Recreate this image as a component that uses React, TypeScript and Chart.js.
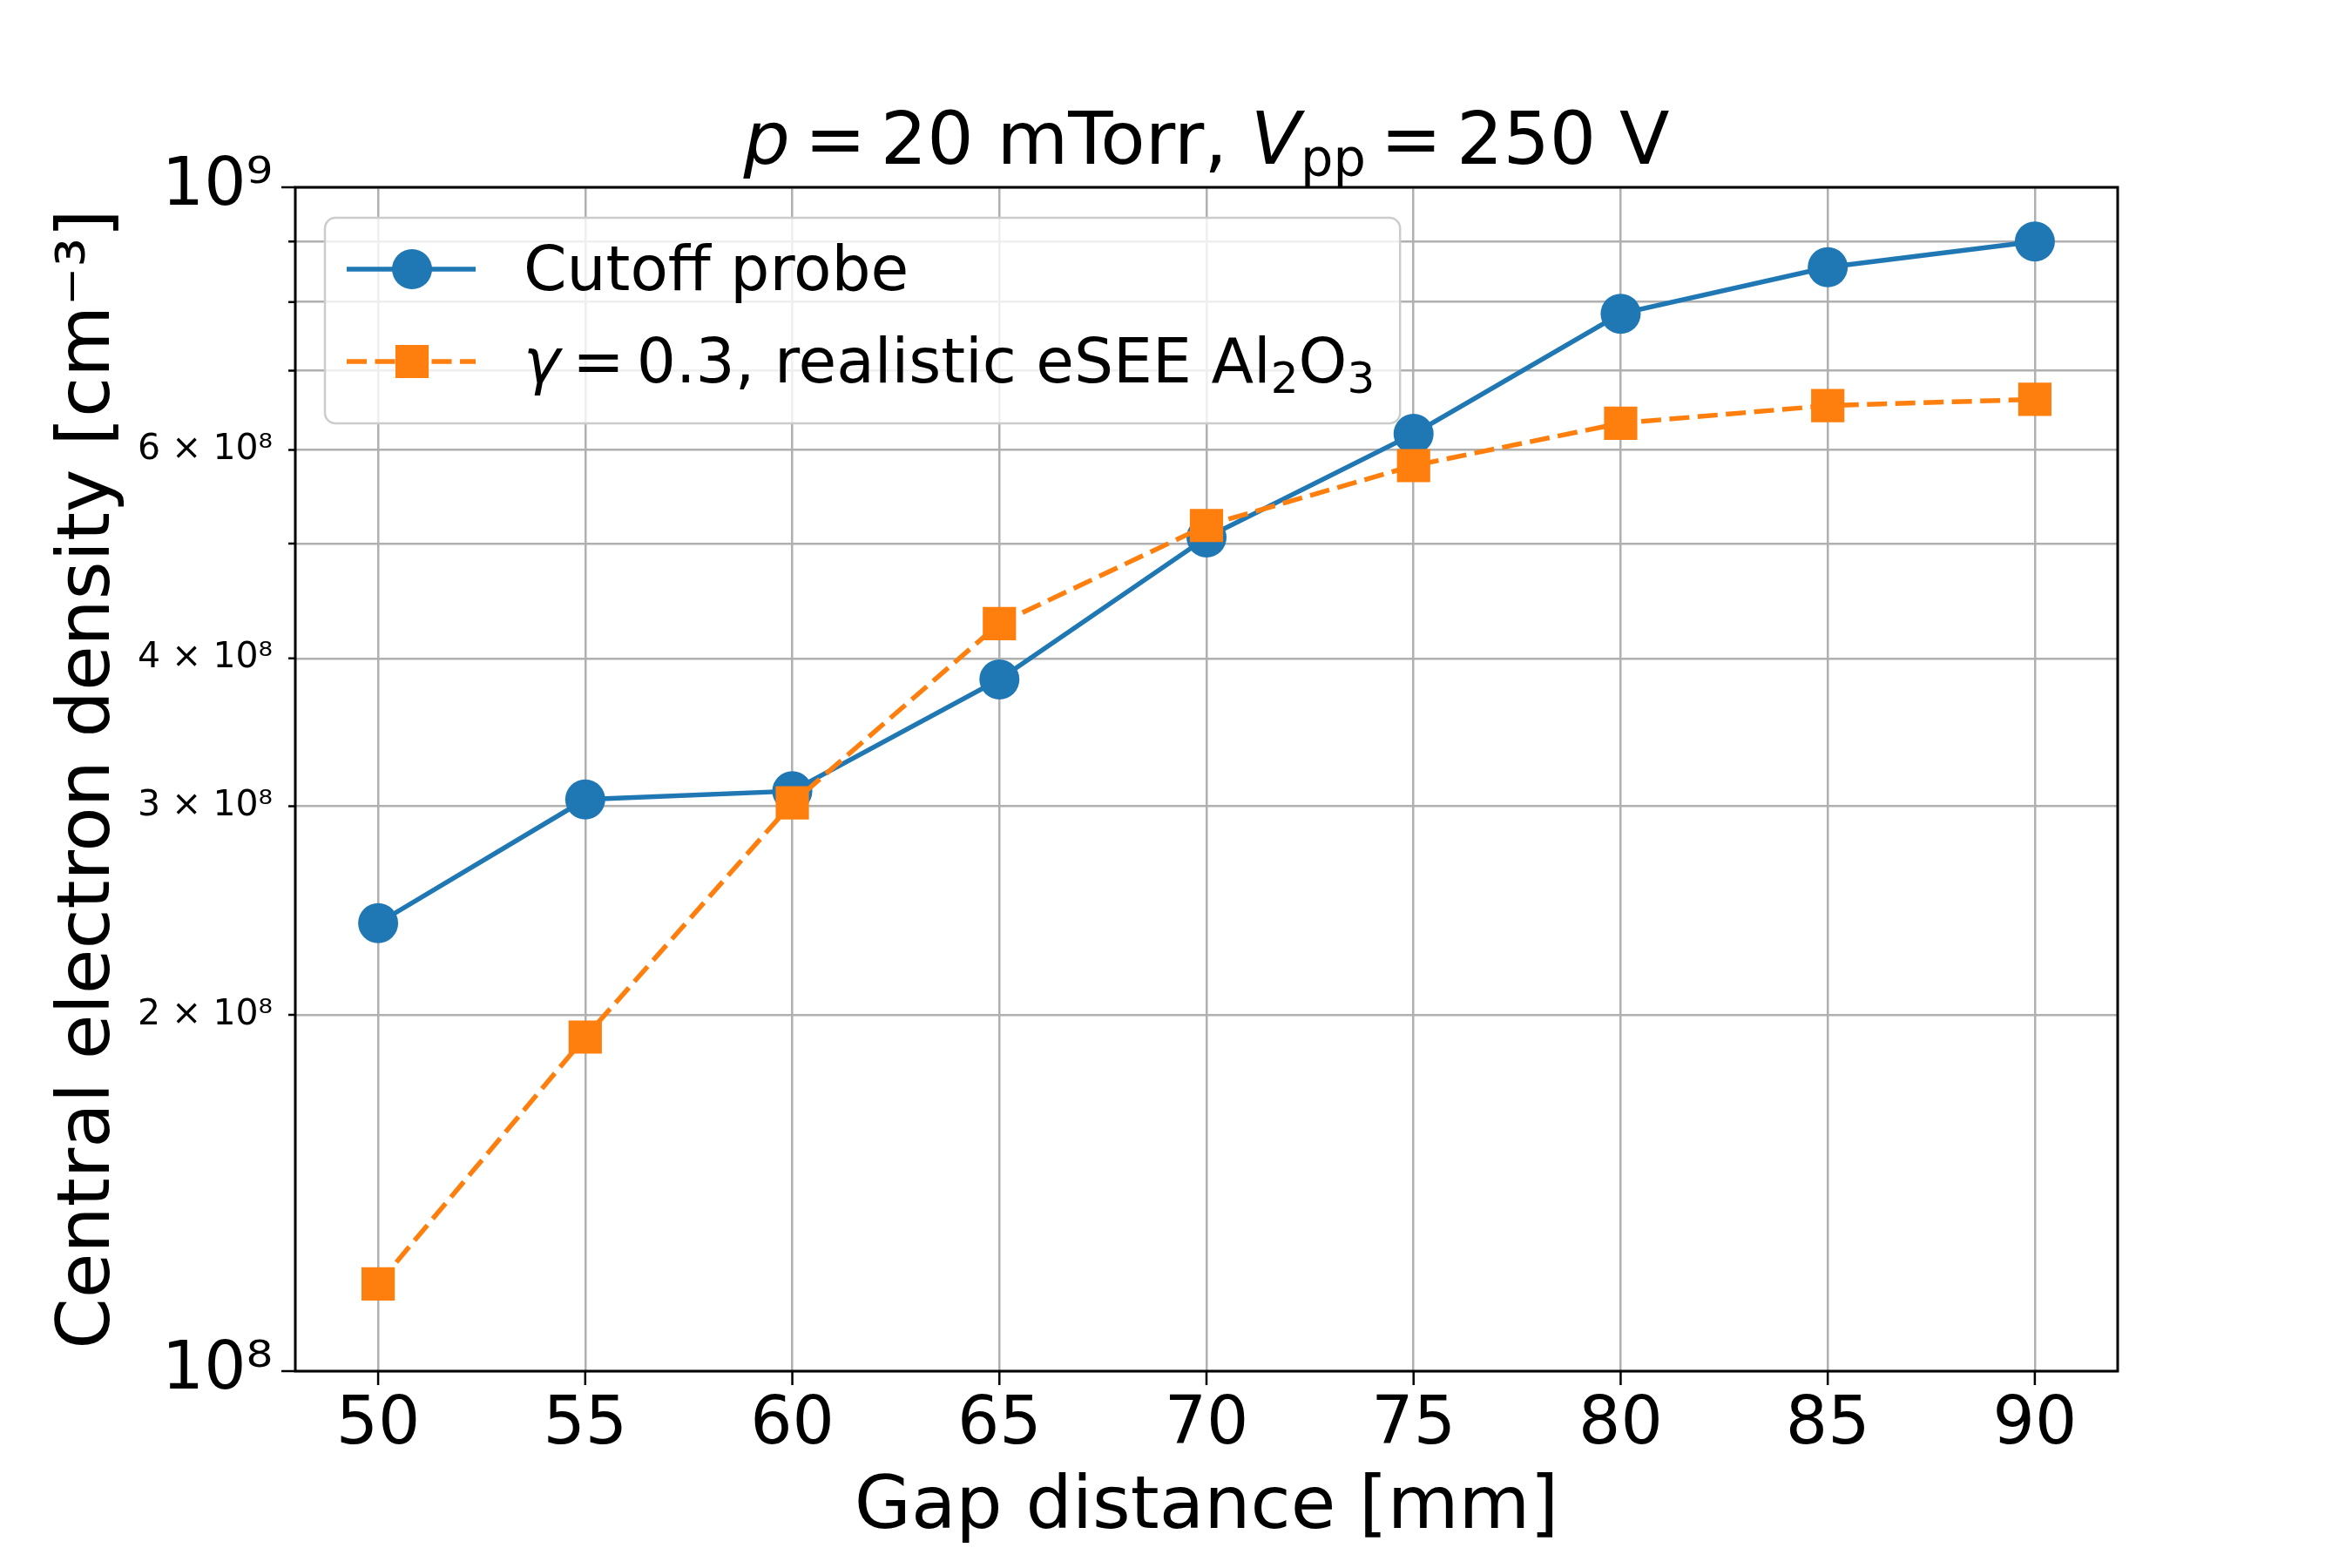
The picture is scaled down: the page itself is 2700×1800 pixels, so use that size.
import { useEffect, useRef } from "react";
import { Chart, registerables } from "chart.js";

Chart.register(...registerables);

const FONT = "DejaVu Sans";

// gap distance [mm]
const gapDistance = [50, 55, 60, 65, 70, 75, 80, 85, 90];
// central electron density [cm^-3]
const cutoffProbe = [2.39e8, 3.04e8, 3.09e8, 3.84e8, 5.06e8, 6.19e8, 7.82e8, 8.56e8, 9.0e8];
const realisticEsee = [1.185e8, 1.915e8, 3.02e8, 4.28e8, 5.18e8, 5.82e8, 6.32e8, 6.54e8, 6.62e8];

const xTicks = [50, 55, 60, 65, 70, 75, 80, 85, 90];
const yTicks = [1e8, 2e8, 3e8, 4e8, 5e8, 6e8, 7e8, 8e8, 9e8, 1e9];
const yTickLabels = ["10⁸", "2 × 10⁸", "3 × 10⁸", "4 × 10⁸", "", "6 × 10⁸", "", "", "", "10⁹"];
const yMajor = [1e8, 1e9];

const BLUE = "#1f77b4";
const ORANGE = "#ff7f0e";

type Run = { t: string; size: number; italic?: boolean; dy?: number };

function runsWidth(ctx: CanvasRenderingContext2D, runs: Run[]) {
  let w = 0;
  for (const r of runs) {
    ctx.font = `${r.italic ? "italic " : ""}${r.size}px "${FONT}"`;
    w += ctx.measureText(r.t).width;
  }
  return w;
}

function drawRuns(ctx: CanvasRenderingContext2D, runs: Run[], x: number, y: number) {
  ctx.textAlign = "left";
  ctx.textBaseline = "alphabetic";
  ctx.fillStyle = "#000";
  for (const r of runs) {
    ctx.font = `${r.italic ? "italic " : ""}${r.size}px "${FONT}"`;
    ctx.fillText(r.t, x, y + (r.dy || 0));
    x += ctx.measureText(r.t).width;
  }
}

const titleRuns: Run[] = [
  { t: "p", size: 84, italic: true },
  { t: "\u2009=\u200920 mTorr, ", size: 84 },
  { t: "V", size: 84, italic: true },
  { t: "pp", size: 59, dy: 14 },
  { t: "\u2009=\u2009250 V", size: 84 },
];

const legendRuns: Run[][] = [
  [{ t: "Cutoff probe", size: 71 }],
  [
    { t: "γ", size: 71, italic: true },
    { t: "\u2009=\u20090.3, realistic eSEE Al", size: 71 },
    { t: "2", size: 50, dy: 12 },
    { t: "O", size: 71 },
    { t: "3", size: 50, dy: 12 },
  ],
];

const decorPlugin = {
  id: "decor",
  afterDraw(chart: any) {
    const { ctx, chartArea: a, scales } = chart;
    ctx.save();

    // spines
    ctx.strokeStyle = "#000";
    ctx.lineWidth = 3;
    ctx.strokeRect(a.left, a.top, a.right - a.left, a.bottom - a.top);

    // tick marks
    ctx.lineWidth = 2.5;
    ctx.beginPath();
    for (const v of xTicks) {
      const px = scales.x.getPixelForValue(v);
      ctx.moveTo(px, a.bottom);
      ctx.lineTo(px, a.bottom + 16);
    }
    for (const v of yTicks) {
      const py = scales.y.getPixelForValue(v);
      const len = yMajor.includes(v) ? 16 : 8;
      ctx.moveTo(a.left, py);
      ctx.lineTo(a.left - len, py);
    }
    ctx.stroke();

    // title
    const tw = runsWidth(ctx, titleRuns);
    drawRuns(ctx, titleRuns, (a.left + a.right) / 2 - tw / 2, 188);

    // legend
    const bx = a.left + 34;
    const by = a.top + 35;
    const textW = Math.max(...legendRuns.map((r) => runsWidth(ctx, r)));
    const bw = 228 + textW + 29;
    const bh = 236;
    ctx.beginPath();
    ctx.roundRect(bx, by, bw, bh, 12);
    ctx.fillStyle = "rgba(255,255,255,0.8)";
    ctx.fill();
    ctx.strokeStyle = "#cccccc";
    ctx.lineWidth = 2.5;
    ctx.stroke();

    const rows = [by + 59, by + 165];
    chart.data.datasets.forEach((ds: any, i: number) => {
      const ry = rows[i];
      ctx.strokeStyle = ds.borderColor;
      ctx.lineWidth = ds.borderWidth;
      ctx.setLineDash(ds.borderDash || []);
      ctx.beginPath();
      ctx.moveTo(bx + 25, ry);
      ctx.lineTo(bx + 173, ry);
      ctx.stroke();
      ctx.setLineDash([]);
      ctx.fillStyle = ds.backgroundColor;
      ctx.beginPath();
      if (ds.pointStyle === "rect") {
        const s = ds.pointRadius * Math.SQRT1_2;
        ctx.rect(bx + 100 - s, ry - s, 2 * s, 2 * s);
      } else {
        ctx.arc(bx + 100, ry, ds.pointRadius, 0, Math.PI * 2);
      }
      ctx.fill();
      drawRuns(ctx, legendRuns[i], bx + 228, ry + 24);
    });

    ctx.restore();
  },
};

export default function App() {
  const canvasRef = useRef<HTMLCanvasElement>(null);
  const chartRef = useRef<Chart | null>(null);

  useEffect(() => {
    if (!canvasRef.current) return;
    if (chartRef.current) chartRef.current.destroy();

    chartRef.current = new Chart(canvasRef.current, {
      type: "line",
      data: {
        datasets: [
          {
            label: "Cutoff probe",
            data: gapDistance.map((x, i) => ({ x, y: cutoffProbe[i] })),
            borderColor: BLUE,
            backgroundColor: BLUE,
            borderWidth: 5.5,
            pointStyle: "circle",
            pointRadius: 23,
            pointBorderWidth: 0,
            pointBackgroundColor: BLUE,
            order: 1,
          },
          {
            label: "γ = 0.3, realistic eSEE Al2O3",
            data: gapDistance.map((x, i) => ({ x, y: realisticEsee[i] })),
            borderColor: ORANGE,
            backgroundColor: ORANGE,
            borderWidth: 5.5,
            borderDash: [23, 9.5],
            pointStyle: "rect",
            pointRadius: 27,
            pointBorderWidth: 0,
            pointBackgroundColor: ORANGE,
            order: 0,
          },
        ] as any,
      },
      options: {
        responsive: false,
        animation: false,
        devicePixelRatio: 1,
        layout: { padding: { left: 40, right: 269, top: 215, bottom: 0 } },
        plugins: {
          legend: { display: false },
          title: { display: false },
          tooltip: { enabled: false },
        },
        scales: {
          x: {
            type: "linear",
            min: 48,
            max: 92,
            afterBuildTicks: (s: any) => {
              s.ticks = xTicks.map((v) => ({ value: v }));
            },
            afterFit: (s: any) => {
              s.height = 226;
            },
            grid: { color: "#b0b0b0", lineWidth: 2.5, drawTicks: false },
            border: { display: false },
            ticks: {
              padding: 18,
              color: "#000",
              maxRotation: 0,
              autoSkip: false,
              font: { family: FONT, size: 76 },
              callback: (v: any) => String(v),
            },
            title: {
              display: true,
              text: "Gap distance [mm]",
              color: "#000",
              font: { family: FONT, size: 84 },
              padding: { top: 0, bottom: 17 },
            },
          },
          y: {
            type: "logarithmic",
            min: 1e8,
            max: 1e9,
            afterBuildTicks: (s: any) => {
              s.ticks = yTicks.map((v) => ({ value: v }));
            },
            afterFit: (s: any) => {
              s.width = 299;
            },
            grid: { color: "#b0b0b0", lineWidth: 2.5, drawTicks: false },
            border: { display: false },
            ticks: {
              padding: 26,
              color: "#000",
              autoSkip: false,
              font: (c: any) => ({
                family: FONT,
                size: c.tick && yMajor.includes(c.tick.value) ? 76 : 41,
              }),
              callback: (v: any) => {
                const i = yTicks.indexOf(Number(v));
                return i >= 0 ? yTickLabels[i] : "";
              },
            },
            title: {
              display: true,
              text: "Central electron density [cm⁻³]",
              color: "#000",
              font: { family: FONT, size: 84 },
              padding: { top: 13, bottom: 0 },
            },
          },
        },
      } as any,
      plugins: [decorPlugin],
    });

    return () => {
      if (chartRef.current) {
        chartRef.current.destroy();
        chartRef.current = null;
      }
    };
  }, []);

  return (
    <div style={{ position: "fixed", left: 0, top: 0, width: 2700, height: 1800, background: "#fff" }}>
      <canvas ref={canvasRef} width={2700} height={1800} style={{ display: "block" }}></canvas>
    </div>
  );
}
